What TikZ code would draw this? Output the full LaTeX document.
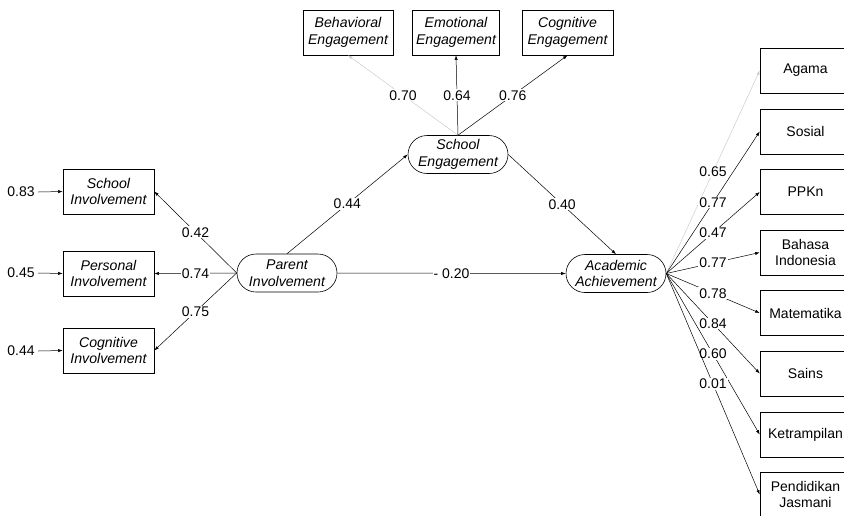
\documentclass[tikz,border=0pt]{standalone}
\usepackage{fontspec}
\setmainfont{Liberation Sans}
\usetikzlibrary{arrows.meta}
\begin{document}
\begin{tikzpicture}[x=1pt,y=-1pt,
  font=\fontsize{14}{16.5}\selectfont,
  obs/.style={draw, line width=0.6pt, minimum width=91pt, minimum height=45pt, inner sep=0pt, align=center},
  lat/.style={draw, line width=0.6pt, rounded corners=19pt, minimum width=100pt, minimum height=38pt, inner sep=0pt, align=center, font=\fontsize{14.1}{16.5}\selectfont\itshape},
  itbox/.style={obs, font=\fontsize{14.1}{16.5}\selectfont\itshape},
  conn/.style={line width=0.5pt, -{Latex[length=4.5pt,width=3.2pt]}},
  faint/.style={conn, draw=black!20},
  lbl/.style={fill=white, inner sep=1pt, pos=0.5}]
\useasboundingbox (0,0) rectangle (844,515);

% latent variables
\node[lat] (pi) at (287,273) {Parent\\Involvement};
\node[lat] (se) at (458,154.5) {School\\Engagement};
\node[lat] (aa) at (616,273.5) {Academic\\Achievement};

% left indicators
\node[itbox] (sinv) at (108.5,191.5) {School\\Involvement};
\node[itbox] (pinv) at (108.5,273.5) {Personal\\Involvement};
\node[itbox] (cinv) at (108.5,350.5) {Cognitive\\Involvement};

\node (e1) at (21,192) {0.83};
\node (e2) at (21,273) {0.45};
\node (e3) at (21,351) {0.44};

% top indicators
\node[itbox, minimum width=90pt] (beh) at (348,32.5) {Behavioral\\Engagement};
\node[itbox, minimum width=87pt] (emo) at (456,32.5) {Emotional\\Engagement};
\node[itbox, minimum width=91pt] (cog) at (567.5,32.5) {Cognitive\\Engagement};

% right indicators
\node[obs] (ag) at (805.5,70.5) {Agama};
\node[obs] (so) at (805.5,131.5) {Sosial};
\node[obs] (pp) at (805.5,192) {PPKn};
\node[obs] (bi) at (805.5,252.5) {Bahasa\\Indonesia};
\node[obs] (ma) at (805.5,313) {Matematika};
\node[obs] (sa) at (805.5,373.5) {Sains};
\node[obs] (ke) at (805.5,434.5) {Ketrampilan};
\node[obs] (pj) at (805.5,494.5) {Pendidikan\\Jasmani};

% error arrows
\draw[conn] (e1.east) -- (sinv.west);
\draw[conn] (e2.east) -- (pinv.west);
\draw[conn] (e3.east) -- (cinv.west);

% parent involvement loadings
\draw[conn] (pi.west) -- node[lbl]{0.42} (sinv.east);
\draw[conn] (pi.west) -- node[lbl]{0.74} (pinv.east);
\draw[conn] (pi.west) -- node[lbl]{0.75} (cinv.east);

% structural paths
\draw[conn] (pi.north) -- node[lbl]{0.44} (se.west);
\draw[conn] (se.east) -- node[lbl]{0.40} (aa.north);
\draw[conn] (pi.east) -- node[lbl]{- 0.20} (aa.west);

% school engagement loadings
\draw[faint] (se.north) -- node[lbl, text=black]{0.70} (beh.south);
\draw[conn] (se.north) -- node[lbl]{0.64} (emo.south);
\draw[conn] (se.north) -- node[lbl]{0.76} (cog.south);

% academic achievement loadings
\draw[faint] (aa.east) -- node[lbl, text=black]{0.65} (ag.west);
\draw[conn] (aa.east) -- node[lbl]{0.77} (so.west);
\draw[conn] (aa.east) -- node[lbl]{0.47} (pp.west);
\draw[conn] (aa.east) -- node[lbl]{0.77} (bi.west);
\draw[conn] (aa.east) -- node[lbl]{0.78} (ma.west);
\draw[conn] (aa.east) -- node[lbl]{0.84} (sa.west);
\draw[conn] (aa.east) -- node[lbl]{0.60} (ke.west);
\draw[conn] (aa.east) -- node[lbl]{0.01} (pj.west);
\end{tikzpicture}
\end{document}
